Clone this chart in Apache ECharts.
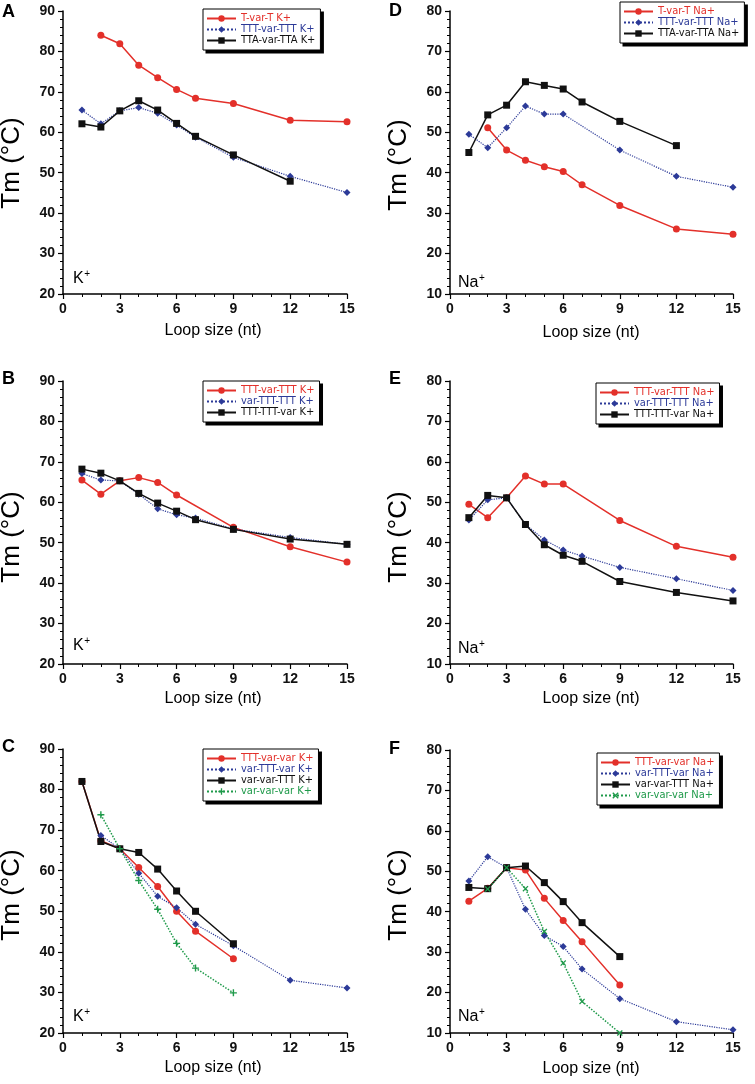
<!DOCTYPE html>
<html>
<head>
<meta charset="utf-8">
<script src="https://cdn.jsdelivr.net/npm/echarts@6/dist/echarts.min.js"></script>
<style>
html,body{margin:0;padding:0;background:#fff;}
#chart{width:755px;height:1084px;}
</style>
</head>
<body>
<div id="chart"></div>
<script>
// Loop sizes (nt) shared by all panels
const loopSizes = [1, 2, 3, 4, 5, 6, 7, 9, 12, 15];
const xTicks = [0, 3, 6, 9, 12, 15];

// Panel A (K+)
const A_TvarT      = [null, 84.0, 81.9, 76.6, 73.5, 70.6, 68.4, 67.1, 63.0, 62.6];
const A_TTTvarTTT  = [65.5, 62.1, 65.3, 66.1, 64.7, 61.8, 58.8, 53.8, 49.1, 45.1];
const A_TTAvarTTA  = [62.1, 61.3, 65.3, 67.8, 65.5, 62.2, 59.0, 54.4, 47.9, null];
// Panel D (Na+)
const D_TvarT      = [null, 51.1, 45.6, 43.1, 41.5, 40.3, 37.0, 31.9, 26.1, 24.8];
const D_TTTvarTTT  = [49.5, 46.2, 51.1, 56.5, 54.5, 54.5, null, 45.6, 39.1, 36.4];
const D_TTAvarTTA  = [45.0, 54.3, 56.7, 62.5, 61.6, 60.7, 57.5, 52.7, 46.7, null];
// Panel B (K+)
const B_TTTvarTTT  = [65.5, 62.0, 65.3, 66.1, 64.9, 61.8, null, 53.8, 49.0, 45.2];
const B_varTTTTTT  = [67.1, 65.5, 65.3, 62.0, 58.4, 56.9, 56.1, 53.4, 51.3, 49.6];
const B_TTTTTTvar  = [68.2, 67.2, 65.3, 62.2, 59.8, 57.8, 55.7, 53.3, 50.9, 49.6];
// Panel E (Na+)
const E_TTTvarTTT  = [49.5, 46.2, 51.1, 56.5, 54.5, 54.5, null, 45.5, 39.1, 36.4];
const E_varTTTTTT  = [45.6, 50.6, 51.1, 44.5, 40.7, 38.2, 36.7, 33.9, 31.1, 28.2];
const E_TTTTTTvar  = [46.2, 51.7, 51.1, 44.5, 39.5, 36.9, 35.4, 30.4, 27.7, 25.6];
// Panel C (K+)
const C_TTTvarvar  = [82.0, 67.4, 65.4, 60.8, 56.1, 50.0, 45.1, 38.3, null, null];
const C_varTTTvar  = [null, 68.7, 65.4, 59.4, 53.7, 50.9, 46.8, 41.5, 33.0, 31.1];
const C_varvarTTT  = [82.0, 67.2, 65.4, 64.5, 60.4, 55.0, 50.0, 42.0, null, null];
const C_varvarvar  = [null, 73.8, 65.4, 57.6, 50.5, 42.1, 36.0, 29.9, null, null];
// Panel F (Na+)
const F_TTTvarvar  = [42.6, 45.8, 50.9, 50.3, 43.3, 37.8, 32.6, 21.9, null, null];
const F_varTTTvar  = [47.6, 53.6, 50.9, 40.6, 34.1, 31.4, 25.8, 18.5, 12.8, 10.8];
const F_varvarTTT  = [46.0, 45.7, 50.9, 51.3, 47.2, 42.5, 37.3, 28.9, null, null];
const F_varvarvar  = [null, 45.6, 50.9, 45.7, 35.1, 27.3, 17.8, 10.0, null, null];

const RED = '#e3302a', BLUE = '#2c3a98', BLACK = '#111111', GREEN = '#1f9a4a';
const PLUS = 'path://M4,0H6V4H10V6H6V10H4V6H0V4H4Z';
const CROSS = 'path://M1.5,0L5,3.5L8.5,0L10,1.5L6.5,5L10,8.5L8.5,10L5,6.5L1.5,10L0,8.5L3.5,5L0,1.5Z';

const STYLES = {
  red:   {color: RED,   symbol: 'circle',  size: 7, type: 'solid',  width: 1.5},
  blue:  {color: BLUE,  symbol: 'diamond', size: 7, type: 'dotted', width: 1.2},
  black: {color: BLACK, symbol: 'rect',    size: 7, type: 'solid',  width: 1.5},
  greenPlus:  {color: GREEN, symbol: PLUS,  size: 7, type: 'dotted', width: 1.5},
  greenCross: {color: GREEN, symbol: CROSS, size: 6, type: 'dotted', width: 1.5}
};

const panels = [
  {id:'A', grid:{left:63, top:11, width:284, height:283}, ymin:20, ymax:90, ion:'K', legend:{left:203, top:9},
   series:[['T-var-T K+', A_TvarT, 'red'], ['TTT-var-TTT K+', A_TTTvarTTT, 'blue'], ['TTA-var-TTA K+', A_TTAvarTTA, 'black']]},
  {id:'D', grid:{left:450, top:11, width:283, height:283}, ymin:10, ymax:80, ion:'Na', legend:{left:620, top:2},
   series:[['T-var-T Na+', D_TvarT, 'red'], ['TTT-var-TTT Na+', D_TTTvarTTT, 'blue'], ['TTA-var-TTA Na+', D_TTAvarTTA, 'black']]},
  {id:'B', grid:{left:63, top:381, width:284, height:283}, ymin:20, ymax:90, ion:'K', legend:{left:203, top:381},
   series:[['TTT-var-TTT K+', B_TTTvarTTT, 'red'], ['var-TTT-TTT K+', B_varTTTTTT, 'blue'], ['TTT-TTT-var K+', B_TTTTTTvar, 'black']]},
  {id:'E', grid:{left:450, top:381, width:283, height:283}, ymin:10, ymax:80, ion:'Na', legend:{left:596, top:383},
   series:[['TTT-var-TTT Na+', E_TTTvarTTT, 'red'], ['var-TTT-TTT Na+', E_varTTTTTT, 'blue'], ['TTT-TTT-var Na+', E_TTTTTTvar, 'black']]},
  {id:'C', grid:{left:63, top:749, width:284, height:284}, ymin:20, ymax:90, ion:'K', legend:{left:203, top:749},
   series:[['TTT-var-var K+', C_TTTvarvar, 'red'], ['var-TTT-var K+', C_varTTTvar, 'blue'], ['var-var-TTT K+', C_varvarTTT, 'black'], ['var-var-var K+', C_varvarvar, 'greenPlus']]},
  {id:'F', grid:{left:450, top:750, width:283, height:283}, ymin:10, ymax:80, ion:'Na', legend:{left:597, top:753},
   series:[['TTT-var-var Na+', F_TTTvarvar, 'red'], ['var-TTT-var Na+', F_varTTTvar, 'blue'], ['var-var-TTT Na+', F_varvarTTT, 'black'], ['var-var-var Na+', F_varvarvar, 'greenCross']]}
];

const FONT = "'Liberation Sans', Arial, Helvetica, sans-serif";
const NARROW = "'DejaVu Sans Condensed', 'Liberation Sans', Arial, sans-serif";

const option = {
  animation: false,
  backgroundColor: '#fff',
  grid: [], xAxis: [], yAxis: [], series: [], legend: [], graphic: []
};

panels.forEach((p, i) => {
  option.grid.push(Object.assign({}, p.grid));
  option.xAxis.push({
    type: 'value', gridIndex: i, min: 0, max: 15, interval: 3,
    axisLine: {lineStyle: {color: '#000', width: 1.5}},
    axisTick: {show: true, inside: false, length: 5, lineStyle: {color: '#000', width: 1.2}},
    minorTick: {show: true, splitNumber: 3, length: 3, lineStyle: {color: '#000', width: 1}},
    axisLabel: {color: '#111', fontSize: 14, fontWeight: 'bold', fontFamily: FONT, margin: 8,
      formatter: v => xTicks.includes(v) ? String(v) : ''},
    splitLine: {show: false}
  });
  option.yAxis.push({
    type: 'value', gridIndex: i, min: p.ymin, max: p.ymax, interval: 10,
    axisLine: {show: true, lineStyle: {color: '#000', width: 1.5}},
    axisTick: {show: true, inside: false, length: 5, lineStyle: {color: '#000', width: 1.2}},
    minorTick: {show: true, splitNumber: 5, length: 3, lineStyle: {color: '#000', width: 1}},
    axisLabel: {color: '#111', fontSize: 14, fontWeight: 'bold', fontFamily: FONT, margin: 8},
    splitLine: {show: false}
  });
  const legendData = [];
  p.series.forEach(([name, values, key]) => {
    const st = STYLES[key];
    const uname = p.id + '|' + name;
    const data = [];
    loopSizes.forEach((x, k) => { if (values[k] !== null) data.push([x, values[k]]); });
    option.series.push({
      type: 'line', name: uname, xAxisIndex: i, yAxisIndex: i, data,
      symbol: st.symbol, symbolSize: st.size, showSymbol: true,
      lineStyle: {color: st.color, width: st.width, type: st.type},
      itemStyle: {color: st.color},
      emphasis: {disabled: true}, clip: false, z: 3
    });
    legendData.push({name: uname, textStyle: {color: st.color}});
  });
  option.legend.push({
    left: p.legend.left, top: p.legend.top, orient: 'vertical',
    itemWidth: 29, itemHeight: 8, itemGap: 0,
    padding: [4, 5, 4, 3],
    backgroundColor: '#fff', borderColor: '#000', borderWidth: 1,
    selectedMode: false, z: 5,
    textStyle: {fontSize: 11, fontFamily: NARROW, lineHeight: 10.5},
    formatter: n => n.split('|')[1],
    data: legendData
  });
  const colX = p.grid.left === 63 ? 0 : 387;
  const letterY = {A: 11, D: 10, B: 378, E: 378, C: 746, F: 748}[p.id];
  option.graphic.push({
    type: 'text', left: colX + 2, top: letterY - 8,
    style: {text: p.id, font: 'bold 18px ' + FONT, fill: '#000'}
  });
  const rowTmY = {A: 163, D: 165, B: 537, E: 537, C: 895, F: 895}[p.id];
  option.graphic.push({
    type: 'text', x: colX + 12, y: rowTmY, rotation: Math.PI / 2,
    style: {text: 'Tm (°C)', font: '26px ' + FONT, fill: '#000', align: 'center', verticalAlign: 'middle'}
  });
  const loopX = p.grid.left === 63 ? 213 : 591;
  const loopY = {A: 331, D: 333, B: 699, E: 699, C: 1068, F: 1069}[p.id];
  option.graphic.push({
    type: 'text', x: loopX, y: loopY,
    style: {text: 'Loop size (nt)', font: '16px ' + FONT, fill: '#000', align: 'center', verticalAlign: 'middle'}
  });
  const ionY = {A: 279, D: 283, B: 646, E: 649, C: 1017, F: 1017}[p.id];
  const ionX = p.grid.left + (p.ion === 'K' ? 10 : 8);
  const ionW = p.ion === 'K' ? 10.7 : 20.5;
  option.graphic.push({
    type: 'text', x: ionX, y: ionY,
    style: {text: p.ion, font: '16px ' + FONT, fill: '#000', verticalAlign: 'middle'}
  });
  option.graphic.push({
    type: 'text', x: ionX + ionW + 0.5, y: ionY - 5,
    style: {text: '+', font: '10px ' + FONT, fill: '#000', verticalAlign: 'middle'}
  });
});

const chart = echarts.init(document.getElementById('chart'), null, {renderer: 'canvas'});
chart.setOption(option);

// Solid drop shadow behind each legend box (decoration sized from the rendered legend)
try {
  const shadows = [];
  const legendModels = chart.getModel().findComponents({mainType: 'legend'});
  legendModels.forEach((m, k) => {
    const view = chart.getViewOfComponentModel(m);
    const g = view.group;
    const r = g.getBoundingRect();
    shadows.push({
      type: 'rect', id: 'shadow' + k, z: 1,
      shape: {x: g.x + r.x + 3, y: g.y + r.y + 3, width: r.width, height: r.height},
      style: {fill: '#000'}
    });
  });
  chart.setOption({graphic: option.graphic.concat(shadows)});
} catch (e) { console.log(e); }
</script>
</body>
</html>
